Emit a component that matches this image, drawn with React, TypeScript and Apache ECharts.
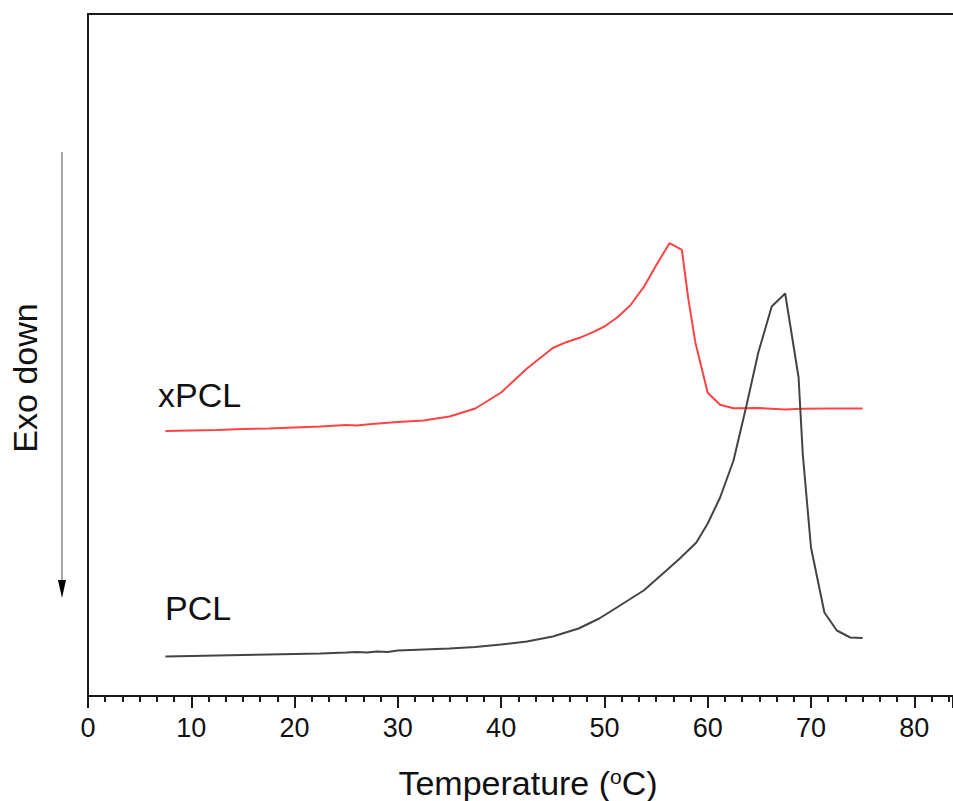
import React, { useEffect, useRef } from "react";
import * as echarts from "echarts";

// Temperature (°C) and heat flow (arbitrary units, endo up)
const xpclTemp = [7.5, 10, 12.5, 15, 17.5, 20, 22.5, 25, 26, 27.5, 30, 32.5, 35, 37.5, 40, 42.5, 45, 46.3, 47.6, 48.9, 50, 51.2, 52.5, 53.8, 55, 56.3, 57.5, 58.1, 58.8, 60, 61.2, 62.5, 65, 67.5, 69, 72, 75];
const xpclFlow = [265, 265.5, 266, 267, 267.5, 268.5, 269.5, 271, 270.5, 272, 274, 275.5, 279.5, 287.5, 303.5, 327.5, 348, 353.8, 358.2, 363.8, 369.5, 378.2, 390.5, 408.8, 430.5, 452.8, 446.2, 398.8, 353.8, 303.2, 291.2, 287.8, 288, 286.5, 287.2, 287.5, 287.5];

const pclTemp = [7.5, 10, 12.5, 15, 17.5, 20, 22.5, 25, 26, 27, 28, 29, 30, 32.5, 35, 37.5, 40, 42.5, 45, 47.5, 49.5, 51.2, 53.8, 56, 57.3, 58.9, 60, 61.2, 62.5, 63.8, 64.9, 66.2, 67.5, 68.8, 69.2, 70, 71.3, 72.5, 73.8, 75];
const pclFlow = [39.5, 40, 40.5, 41, 41.5, 42, 42.5, 43.5, 44, 43.5, 44.5, 44, 45.5, 46.5, 47.5, 49, 51.5, 54.5, 59.5, 67.5, 77.5, 88.5, 105.5, 125.5, 137.5, 153.5, 172.5, 198.5, 235.5, 292.5, 343.5, 389.5, 402.5, 318.5, 242.5, 148.5, 83.5, 65.5, 58.5, 58];

const seriesNames = ["xPCL", "PCL"];
const xMin = 0;
const xMax = 83.75;
const xInterval = 10;
const yMin = 0;
const yMax = 682;

const FONT = "Liberation Sans, Arial, Helvetica, sans-serif";

export default function App() {
  const ref = useRef<HTMLDivElement>(null);
  useEffect(() => {
    if (!ref.current) return;
    const chart = echarts.init(ref.current, null, { renderer: "svg" });
    chart.setOption({
      animation: false,
      backgroundColor: "#ffffff",
      grid: { left: 88, top: 14, right: 0, bottom: 105, containLabel: false },
      xAxis: [
        {
          type: "value",
          min: xMin,
          max: xMax,
          interval: xInterval,
          position: "bottom",
          axisLine: { show: true, lineStyle: { color: "#1a1a1a", width: 2 } },
          axisTick: { show: true, inside: false, length: 12, lineStyle: { color: "#1a1a1a", width: 2 } },
          minorTick: { show: true, splitNumber: 6, length: 6, lineStyle: { color: "#1a1a1a", width: 2 } },
          splitLine: { show: false },
          axisLabel: {
            show: true,
            margin: 18,
            fontSize: 27,
            color: "#111",
            fontFamily: FONT,
            showMaxLabel: false,
          },
        },
        {
          type: "value",
          min: xMin,
          max: xMax,
          position: "top",
          axisLine: { show: true, lineStyle: { color: "#1a1a1a", width: 2 } },
          axisTick: { show: false },
          axisLabel: { show: false },
          splitLine: { show: false },
        },
      ],
      yAxis: {
        type: "value",
        min: yMin,
        max: yMax,
        axisLine: { show: true, lineStyle: { color: "#1a1a1a", width: 2 } },
        axisTick: { show: false },
        axisLabel: { show: false },
        splitLine: { show: false },
      },
      series: [
        {
          name: seriesNames[0],
          type: "line",
          data: xpclTemp.map((t, i) => [t, xpclFlow[i]]),
          showSymbol: false,
          lineStyle: { color: "#ff4343", width: 2 },
          itemStyle: { color: "#ff4343" },
        },
        {
          name: seriesNames[1],
          type: "line",
          data: pclTemp.map((t, i) => [t, pclFlow[i]]),
          showSymbol: false,
          lineStyle: { color: "#444444", width: 2 },
          itemStyle: { color: "#444444" },
        },
      ],
      graphic: [
        {
          type: "text",
          x: 158,
          y: 395,
          style: { text: seriesNames[0], font: `34px ${FONT}`, fill: "#111", textVerticalAlign: "middle" },
        },
        {
          type: "text",
          x: 165,
          y: 608,
          style: { text: seriesNames[1], font: `34px ${FONT}`, fill: "#111", textVerticalAlign: "middle" },
        },
        {
          type: "text",
          x: 25,
          y: 378,
          rotation: Math.PI / 2,
          style: { text: "Exo down", font: `34px ${FONT}`, fill: "#111", textAlign: "center", textVerticalAlign: "middle" },
        },
        {
          type: "text",
          x: 528,
          y: 783,
          style: {
            text: "Temperature ({sup|o}C)",
            font: `34px ${FONT}`,
            fill: "#111",
            textAlign: "center",
            textVerticalAlign: "middle",
            rich: {
              sup: { fontSize: 21, fontFamily: FONT, fill: "#111", verticalAlign: "top" },
            },
          },
        },
        {
          type: "line",
          shape: { x1: 62, y1: 152, x2: 62, y2: 584 },
          style: { stroke: "#888888", lineWidth: 1.5 },
        },
        {
          type: "polygon",
          shape: { points: [[58, 580], [66, 580], [62, 598]] },
          style: { fill: "#000000" },
        },
      ],
    });
    return () => chart.dispose();
  }, []);
  return (
    <div
      ref={ref}
      style={{ position: "fixed", left: 0, top: 0, width: 953, height: 801, background: "#fff" }}
    />
  );
}
